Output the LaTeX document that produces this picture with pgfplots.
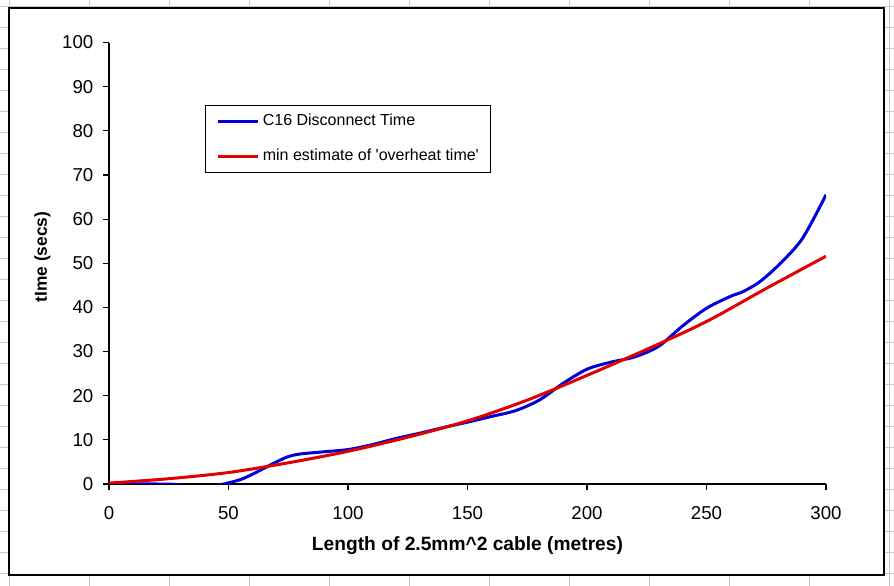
\documentclass[border=0pt]{standalone}
\usepackage{fontspec}
\setmainfont{Liberation Sans}
\usepackage{pgfplots}
\pgfplotsset{compat=1.18}
\definecolor{xlblue}{RGB}{0,0,215}
\definecolor{xlred}{RGB}{225,0,0}
\definecolor{cellgrid}{RGB}{200,200,200}

\begin{document}
\begin{tikzpicture}[x=0.75pt,y=0.75pt]
% one unit = one pixel of the reference, y upwards
\path[use as bounding box] (0,0) rectangle (894,586);
% spreadsheet cells behind the chart
\foreach \gx in {9,89,...,889} \draw[cellgrid,line width=0.75pt] (\gx,0) -- (\gx,586);
\foreach \gy in {12,33,...,579} \draw[cellgrid,line width=0.75pt] (0,\gy) -- (894,\gy);
\fill[white] (9,11) rectangle (884,578);
\draw[black,line width=1.1pt] (9,11) rectangle (884,578);

\begin{axis}[
    at={(81.75pt,76.5pt)}, anchor=south west,
    scale only axis,
    width=537.75pt, height=331.1pt,
    xmin=0, xmax=300, ymin=0, ymax=100,
    xtick={0,50,...,300}, ytick={0,10,...,100},
    axis lines*=left,
    axis line style={line width=0.9pt},
    tick align=outside,
    major tick length=4.5pt,
    tick style={black,line width=0.9pt},
    /pgf/number format/assume math mode=true,
    tick label style={font=\fontsize{14}{16}\selectfont},
    xticklabel style={yshift=-9pt},
    yticklabel style={xshift=-3.75pt},
    xlabel={\textbf{Length of 2.5mm\textasciicircum2 cable (metres)}},
    ylabel={\textbf{tIme (secs)}},
    xlabel style={font=\fontsize{14.4}{16}\selectfont, at={(axis description cs:0.5,-0.14)}, anchor=center},
    ylabel style={font=\fontsize{13}{15}\selectfont, at={(axis description cs:-0.093,0.514)}, anchor=center},
    legend cell align=left,
    legend image code/.code={\path (0pt,0pt) -- (30pt,0pt); \draw[#1] (5pt,0pt) -- (30pt,0pt);},
    legend style={
        at={(0.1339,0.8584)}, anchor=north west,
        draw=black, line width=0.75pt, fill=white,
        font=\fontsize{12}{14}\selectfont,
        inner xsep=8.5pt, inner ysep=6.1pt,
        row sep=14pt, column sep=2.25pt,
        nodes={inner sep=0pt, text height=9pt, text depth=3pt},
    },
]
\addplot[xlblue, line width=2.25pt, smooth] coordinates {
(0,0) (10,0) (20,0) (28,-0.1) (35,-0.6) (43,-0.5) (48,0) (55,1.0) (60,2.2)
(65,3.6) (70,5.0) (75,6.2) (80,6.8) (90,7.3) (100,7.8) (110,8.9) (120,10.3)
(130,11.5) (140,12.8) (150,14.0) (160,15.3) (170,16.6) (180,19.0) (190,22.8)
(200,26.0) (210,27.6) (220,28.8) (230,31.2) (240,35.8) (250,39.8) (260,42.5)
(265,43.5) (272,45.7) (280,49.5) (290,55.5) (300,65.5)
};
\addplot[xlred, line width=2.25pt, smooth] coordinates {
(0,0.2) (25,1.2) (50,2.6) (75,4.8) (100,7.4) (125,10.6) (150,14.3)
(175,19.0) (200,24.6) (225,30.5) (250,36.8) (275,44.3) (300,51.6)
};
\legend{C16 Disconnect Time, min estimate of \textquotesingle overheat time\textquotesingle}
\end{axis}
\end{tikzpicture}
\end{document}
